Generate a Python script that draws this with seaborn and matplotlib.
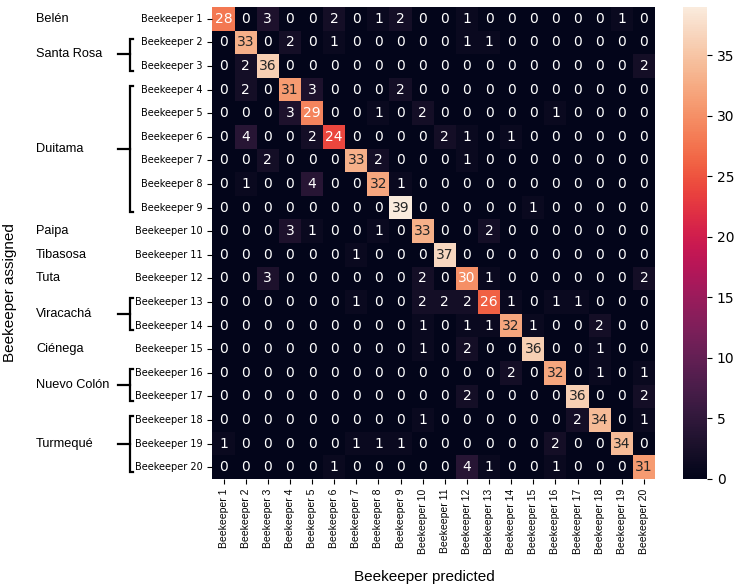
import numpy as np
import pandas as pd
import matplotlib
matplotlib.use("Agg")
import matplotlib.pyplot as plt
import matplotlib.transforms as mtransforms
import seaborn as sns

beekeepers = ["Beekeeper %d" % i for i in range(1, 21)]

# rows = assigned, columns = predicted
counts = [
    [28, 0, 3, 0, 0, 2, 0, 1, 2, 0, 0, 1, 0, 0, 0, 0, 0, 0, 1, 0],
    [0, 33, 0, 2, 0, 1, 0, 0, 0, 0, 0, 1, 1, 0, 0, 0, 0, 0, 0, 0],
    [0, 2, 36, 0, 0, 0, 0, 0, 0, 0, 0, 0, 0, 0, 0, 0, 0, 0, 0, 2],
    [0, 2, 0, 31, 3, 0, 0, 0, 2, 0, 0, 0, 0, 0, 0, 0, 0, 0, 0, 0],
    [0, 0, 0, 3, 29, 0, 0, 1, 0, 2, 0, 0, 0, 0, 0, 1, 0, 0, 0, 0],
    [0, 4, 0, 0, 2, 24, 0, 0, 0, 0, 2, 1, 0, 1, 0, 0, 0, 0, 0, 0],
    [0, 0, 2, 0, 0, 0, 33, 2, 0, 0, 0, 1, 0, 0, 0, 0, 0, 0, 0, 0],
    [0, 1, 0, 0, 4, 0, 0, 32, 1, 0, 0, 0, 0, 0, 0, 0, 0, 0, 0, 0],
    [0, 0, 0, 0, 0, 0, 0, 0, 39, 0, 0, 0, 0, 0, 1, 0, 0, 0, 0, 0],
    [0, 0, 0, 3, 1, 0, 0, 1, 0, 33, 0, 0, 2, 0, 0, 0, 0, 0, 0, 0],
    [0, 0, 0, 0, 0, 0, 1, 0, 0, 0, 37, 0, 0, 0, 0, 0, 0, 0, 0, 0],
    [0, 0, 3, 0, 0, 0, 0, 0, 0, 2, 0, 30, 1, 0, 0, 0, 0, 0, 0, 2],
    [0, 0, 0, 0, 0, 0, 1, 0, 0, 2, 2, 2, 26, 1, 0, 1, 1, 0, 0, 0],
    [0, 0, 0, 0, 0, 0, 0, 0, 0, 1, 0, 1, 1, 32, 1, 0, 0, 2, 0, 0],
    [0, 0, 0, 0, 0, 0, 0, 0, 0, 1, 0, 2, 0, 0, 36, 0, 0, 1, 0, 0],
    [0, 0, 0, 0, 0, 0, 0, 0, 0, 0, 0, 0, 0, 2, 0, 32, 0, 1, 0, 1],
    [0, 0, 0, 0, 0, 0, 0, 0, 0, 0, 0, 2, 0, 0, 0, 0, 36, 0, 0, 2],
    [0, 0, 0, 0, 0, 0, 0, 0, 0, 1, 0, 0, 0, 0, 0, 0, 2, 34, 0, 1],
    [1, 0, 0, 0, 0, 0, 1, 1, 1, 0, 0, 0, 0, 0, 0, 2, 0, 0, 34, 0],
    [0, 0, 0, 0, 0, 1, 0, 0, 0, 0, 0, 4, 1, 0, 0, 1, 0, 0, 0, 31],
]

# municipality of each beekeeper group (first and last row, 1-based)
groups = ["Belén", "Santa Rosa", "Duitama", "Paipa", "Tibasosa", "Tuta",
          "Viracachá", "Ciénega", "Nuevo Colón", "Turmequé"]
group_first = [1, 2, 4, 10, 11, 12, 13, 15, 16, 18]
group_last = [1, 3, 9, 10, 11, 12, 14, 15, 17, 20]

df = pd.DataFrame(counts, index=beekeepers, columns=beekeepers)

fig = plt.figure(figsize=(7.36, 5.85), dpi=100)
ax = fig.add_axes([0.2887, 0.1812, 0.6012, 0.8068])
cax = fig.add_axes([0.928, 0.1812, 0.0326, 0.8068])

sns.heatmap(df, annot=True, fmt="d", ax=ax, cbar_ax=cax,
            annot_kws={"fontsize": 10, "family": "DejaVu Sans"})

ax.set_xlabel("")
ax.set_ylabel("")
ax.set_yticklabels(beekeepers, rotation=0, fontsize=7, family="DejaVu Sans")
ax.set_xticklabels(beekeepers, rotation=90, fontsize=7.5, family="Liberation Sans")
cax.tick_params(labelsize=10)

fig.text(0.576, 0.0137, "Beekeeper predicted", ha="center", va="center",
         fontsize=11, family="Liberation Sans")
fig.text(0.0136, 0.5, "Beekeeper assigned", ha="center", va="center",
         rotation=90, fontsize=11, family="Liberation Sans")

# municipality labels and brackets on the left
trans = mtransforms.blended_transform_factory(fig.transFigure, ax.transData)
x_vert = 129.5 / 736
x_stem = 118 / 736
x_hook = 132.5 / 736
for name, first, last in zip(groups, group_first, group_last):
    mid = (first - 1 + last) / 2.0
    fig.text(36 / 736, 0, name, ha="left", va="center", fontsize=9.2,
             family="Liberation Sans", transform=trans).set_y(mid)
    if last > first:
        top = first - 1 + 0.35
        bot = last - 0.3
        ax.plot([x_hook, x_vert, x_vert, x_hook], [top, top, bot, bot],
                color="black", lw=1.6, transform=trans, clip_on=False,
                solid_joinstyle="miter")
        ax.plot([x_stem, x_vert], [mid, mid], color="black", lw=1.6,
                transform=trans, clip_on=False)

plt.savefig("out.png", dpi=100)
